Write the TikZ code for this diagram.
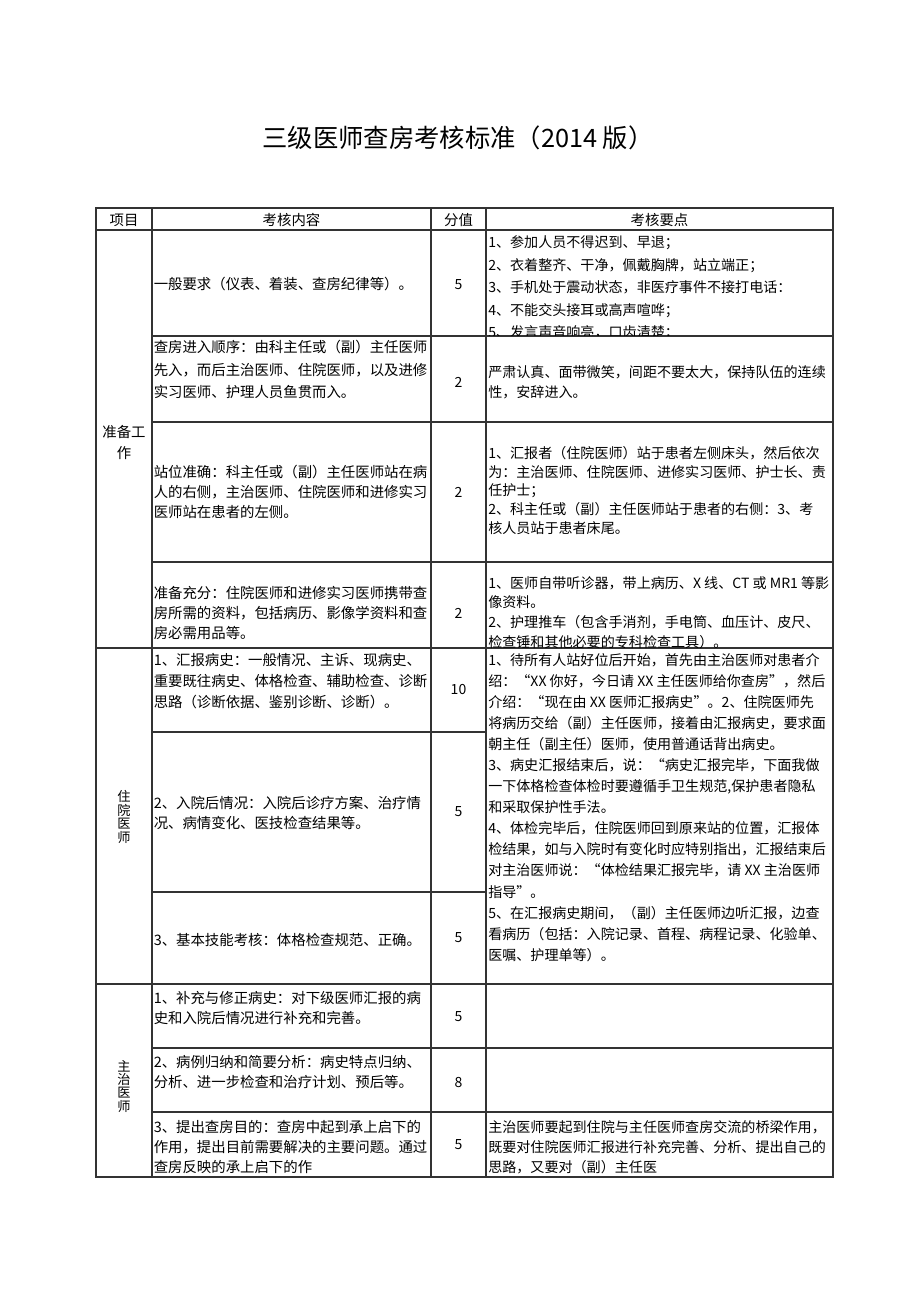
\documentclass[tikz,border=0pt]{standalone}
\usepackage{fontspec}
\setmainfont{Noto Sans CJK SC}
\tikzset{tt/.style = {inner sep=0pt, font=\fontsize{19}{22}\selectfont},
         hd/.style = {inner sep=0pt, font=\fontsize{10.8}{15}\selectfont},
         tx/.style = {inner sep=0pt, anchor=west, align=left,
                      font={\fontsize{10.8}{#1}\selectfont}},
         tx/.default = 15,
         td/.style = {inner sep=0pt, anchor=west, align=left,
                      font={\fontsize{10.55}{#1}\selectfont}},
         td/.default = 15,
         lb/.style = {inner sep=0pt, align=center,
                      font={\fontsize{9.9}{#1}\selectfont}},
         sc/.style = {inner sep=0pt, font=\fontsize{10.5}{12}\selectfont},
         ln/.style = {line width=0.8pt, draw=black!80}}
\begin{document}
\begin{tikzpicture}[x=0.75pt, y=-0.75pt]
    \useasboundingbox (0,0) rectangle (920,1301);
    \node[tt] (title) at (458,138) {三级医师查房考核标准（2014 版）};
    \draw[ln] (96,208) rectangle (833,1177);
    \foreach \x in {152,431,486} \draw[ln] (\x,208) -- (\x,1177);
    \foreach \y in {230,648,984} \draw[ln] (96,\y) -- (833,\y);
    \foreach \y in {336,422,562,1048,1112} \draw[ln] (152,\y) -- (833,\y);
    \foreach \y in {732,892} \draw[ln] (152,\y) -- (486,\y);
    \node[hd] (h1) at (124,220) {项目};
    \node[hd] (h2) at (291.5,220) {考核内容};
    \node[hd] (h3) at (458.5,220) {分值};
    \node[hd] (h4) at (659.5,220) {考核要点};
    \node[tx=15.75, anchor=center, align=center] (s1) at (124,442) {准备工\\作};
    \node[lb=10.2] (s2) at (124,817) {住\\院\\医\\师};
    \node[lb=10] (s3) at (124,1086) {主\\治\\医\\师};
    \node[tx] (n1) at (153.5,284) {一般要求（仪表、着装、查房纪律等）。};
    \node[tx=16.9] (n2) at (153.5,369.5) {查房进入顺序：由科主任或（副）主任医师\\
      先入，而后主治医师、住院医师，以及进修\\实习医师、护理人员鱼贯而入。};
    \node[tx] (n3) at (153.5,492) {站位准确：科主任或（副）主任医师站在病\\
      人的右侧，主治医师、住院医师和进修实习\\医师站在患者的左侧。};
    \node[tx] (n4) at (153.5,613) {准备充分：住院医师和进修实习医师携带查\\
      房所需的资料，包括病历、影像学资料和查\\房必需用品等。};
    \node[tx=15.75] (n5) at (153.5,681) {1、汇报病史：一般情况、主诉、现病史、\\
      重要既往病史、体格检查、辅助检查、诊断\\思路（诊断依据、鉴别诊断、诊断）。};
    \node[tx] (n6) at (153.5,813) {2、入院后情况：入院后诊疗方案、治疗情\\
      况、病情变化、医技检查结果等。};
    \node[tx] (n7) at (153.5,940) {3、基本技能考核：体格检查规范、正确。};
    \node[tx] (n8) at (153.5,1008) {1、补充与修正病史：对下级医师汇报的病\\
      史和入院后情况进行补充和完善。};
    \node[tx] (n9) at (153.5,1072) {2、病例归纳和简要分析：病史特点归纳、\\
      分析、进一步检查和治疗计划、预后等。};
    \node[tx] (n10) at (153.5,1147) {3、提出查房目的：查房中起到承上启下的\\
      作用，提出目前需要解决的主要问题。通过\\查房反映的承上启下的作};
    \node[sc] (f1) at (458.5,285) {5};
    \node[sc] (f2) at (458.5,382) {2};
    \node[sc] (f3) at (458.5,492) {2};
    \node[sc] (f4) at (458.5,613) {2};
    \node[sc] (f5) at (458.5,690) {10};
    \node[sc] (f6) at (458.5,812) {5};
    \node[sc] (f7) at (458.5,938) {5};
    \node[sc] (f8) at (458.5,1017) {5};
    \node[sc] (f9) at (458.5,1082) {8};
    \node[sc] (f10) at (458.5,1145) {5};
    \begin{scope}
      \clip (486,230) rectangle (833,336);
      \node[td=16.9] (d1) at (488,288) {1、参加人员不得迟到、早退；\\
        2、衣着整齐、干净，佩戴胸牌，站立端正；\\3、手机处于震动状态，非医疗事件不接打电话：\\
        4、不能交头接耳或高声喧哗；\\5、发言声音响亮，口齿清楚；};
    \end{scope}
    \node[td] (d2) at (488,382) {严肃认真、面带微笑，间距不要太大，保持队伍的连续\\性，安辞进入。};
    \node[td=14.06] (d3) at (488,490.5) {1、汇报者（住院医师）站于患者左侧床头，然后依次\\
      为：主治医师、住院医师、进修实习医师、护士长、责\\任护士；\\
      2、科主任或（副）主任医师站于患者的右侧：3、考\\核人员站于患者床尾。};
    \begin{scope}
      \clip (486,562) rectangle (833,648);
      \node[td=14.8] (d4) at (488,612.5) {1、医师自带听诊器，带上病历、X 线、CT 或 MR1 等影\\
        像资料。\\2、护理推车（包含手消剂，手电筒、血压计、皮尺、\\
        检查锤和其他必要的专科检查工具）。};
    \end{scope}
    \node[td=15.8] (d5) at (488,807.5) {1、待所有人站好位后开始，首先由主治医师对患者介\\
      绍：“XX 你好，今日请 XX 主任医师给你查房”，然后\\
      介绍：“现在由 XX 医师汇报病史”。2、住院医师先\\
      将病历交给（副）主任医师，接着由汇报病史，要求面\\
      朝主任（副主任）医师，使用普通话背出病史。\\
      3、病史汇报结束后，说：“病史汇报完毕，下面我做\\
      一下体格检查体检时要遵循手卫生规范,保护患者隐私\\
      和采取保护性手法。\\
      4、体检完毕后，住院医师回到原来站的位置，汇报体\\
      检结果，如与入院时有变化时应特别指出，汇报结束后\\
      对主治医师说：“体检结果汇报完毕，请 XX 主治医师\\
      指导”。\\
      5、在汇报病史期间，（副）主任医师边听汇报，边查\\
      看病历（包括：入院记录、首程、病程记录、化验单、\\
      医嘱、护理单等）。};
    \node[td] (d10) at (488,1147) {主治医师要起到住院与主任医师查房交流的桥梁作用，\\
      既要对住院医师汇报进行补充完善、分析、提出自己的\\思路，又要对（副）主任医};
\end{tikzpicture}
\end{document}
